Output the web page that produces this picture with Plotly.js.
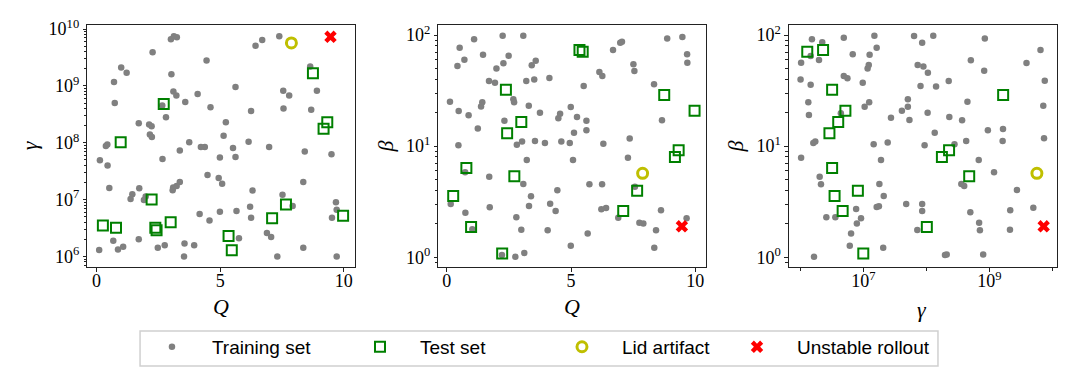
<!DOCTYPE html>
<html>
<head>
<meta charset="utf-8">
<script src="https://cdn.plot.ly/plotly-3.0.1.min.js"></script>
<style>
  html, body { margin: 0; padding: 0; background: #fff; }
  #plot { width: 1079px; height: 389px; }
</style>
</head>
<body>
<div id="plot"></div>
<script>
// Training set, panel 1 (Q vs gamma)
const trainQ1 = [3.01, 3.13, 3.25, 2.27, 1.00, 1.22, 0.71, 3.03, 0.74, 3.11, 3.23, 2.66, 2.81, 1.71, 2.13, 2.23,
    2.16, 2.24, 0.44, 0.38, 0.14, 2.67, 3.37, 6.43, 6.70, 7.39, 4.45, 8.64, 4.09, 3.59, 5.62, 7.55, 7.79, 8.91,
    4.61, 6.25, 7.56, 8.68, 5.23, 5.14, 3.75, 4.22, 4.38, 5.52, 6.15, 6.98, 8.42, 9.50, 4.99, 5.62, 0.45, 0.52,
    1.73, 1.38, 1.45, 1.92, 1.99, 3.08, 0.68, 1.71, 0.11, 0.87, 1.08, 2.48, 2.76, 4.49, 4.94, 5.08, 3.37, 3.24,
    3.10, 6.31, 8.36, 7.52, 7.93, 6.21, 9.68, 9.71, 4.17, 4.99, 5.66, 6.25, 4.57, 9.52, 6.89, 7.06, 5.76, 3.56,
    3.95, 3.54, 7.31, 8.36, 9.71];
const trainGamma1 = [6.6e9, 7.5e9, 7.2e9, 3.9e9, 2.1e9, 1.7e9, 1.17e9, 1.6e9, 5.0e8, 8.0e8, 6.8e8, 4.5e8, 2.8e8,
    2.2e8, 2.1e8, 1.95e8, 1.39e8, 1.26e8, 9.3e7, 8.8e7, 4.9e7, 5.2e7, 7.3e7, 5.1e9, 6.4e9, 7.5e9, 2.8e9, 2.2e9,
    7.2e8, 5.2e8, 9.6e8, 8.2e8, 6.8e8, 8.2e8, 4.2e8, 3.6e8, 4.0e8, 3.8e8, 2.3e8, 1.33e8, 1.02e8, 8.4e7, 8.4e7,
    8.1e7, 1.04e8, 8.4e7, 7.0e7, 6.3e7, 5.5e7, 5.6e7, 4.0e7, 1.6e7, 1.58e7, 1.02e7, 1.24e7, 9.8e6, 1.13e7,
    1.46e7, 1.9e6, 2.0e6, 1.3e6, 1.32e6, 1.48e6, 1.43e6, 1.58e6, 2.7e7, 2.4e7, 1.9e7, 2.05e7, 1.74e7, 1.63e7,
    1.44e7, 2.05e7, 1.22e7, 7.7e6, 7.5e6, 9.0e6, 6.6e6, 5.6e6, 6.1e6, 6.3e6, 4.8e6, 4.3e6, 4.8e6, 2.6e6, 2.2e6,
    2.1e6, 1.69e6, 1.58e6, 1.0e6, 1.0e6, 1.43e6, 1.0e6];

// Training set, panel 2 (Q vs beta)
const trainQ2 = [2.25, 3.08, 1.10, 0.52, 1.46, 2.49, 0.71, 0.43, 2.28, 2.00, 3.58, 3.42, 1.70, 1.94, 3.20, 3.52,
    4.13, 0.13, 2.68, 2.71, 1.43, 1.38, 0.48, 0.88, 3.30, 3.75, 2.32, 1.25, 0.47, 2.82, 3.03, 3.55, 3.95, 3.22,
    8.87, 9.48, 6.69, 6.98, 7.05, 9.67, 9.68, 7.51, 7.55, 6.14, 6.26, 5.51, 8.34, 8.66, 4.99, 4.56, 4.49, 5.24,
    5.62, 5.12, 5.62, 4.61, 4.95, 6.30, 7.36, 5.08, 7.29, 0.74, 1.71, 3.08, 3.39, 3.31, 0.16, 0.75, 1.73, 2.80,
    1.03, 3.00, 4.06, 2.22, 2.76, 3.12, 4.16, 5.74, 6.25, 7.57, 4.45, 4.38, 6.22, 6.41, 6.90, 7.75, 7.91, 8.62,
    9.65, 5.67, 8.42, 4.99, 8.35];
const trainBeta2 = [98.6, 98.6, 91.5, 76.9, 66.5, 65.2, 60.0, 52.6, 55.6, 50.1, 58.7, 53.4, 38.5, 37.2, 38.5, 39.9,
    41.0, 25.1, 26.4, 24.9, 24.9, 22.8, 20.7, 19.0, 23.1, 20.0, 16.9, 14.4, 10.2, 10.3, 11.0, 11.1, 10.7, 7.50,
    93.3, 96.0, 73.3, 85.3, 87.0, 67.0, 56.4, 54.5, 47.4, 46.5, 42.8, 34.7, 36.0, 17.1, 22.5, 19.6, 17.8, 18.3,
    16.9, 13.2, 13.9, 11.0, 10.7, 10.5, 11.7, 7.50, 7.87, 5.82, 5.31, 4.56, 3.54, 2.90, 3.02, 2.52, 2.82, 2.29,
    1.79, 1.77, 1.75, 1.05, 1.01, 1.09, 3.03, 4.54, 4.54, 4.32, 4.01, 2.61, 2.70, 2.78, 2.27, 2.04, 2.01, 2.65,
    2.24, 1.64, 1.75, 1.27, 1.22];

// Training set, panel 3 (gamma vs beta)
const trainGamma3 = [1.53e6, 2.23e6, 4.9e6, 1.50e7, 1.63e7, 1.03e6, 1.46e6, 1.98e6, 6.8e6, 1.26e7, 1.22e7, 1.17e7,
    1.01e6, 1.46e6, 4.9e6, 5.6e6, 9.8e6, 1.34e6, 1.37e6, 1.05e7, 1.24e7, 4.4e6, 2.75e7, 4.1e7, 5.1e7, 5.1e7,
    5.4e7, 1.61e6, 1.73e6, 1.46e7, 2.44e7, 1.03e6, 1.91e7, 6.4e7, 8.6e7, 1.29e8, 8.5e8, 6.5e9, 5.1e8, 3.9e9,
    7.3e7, 9.0e7, 1.06e8, 8.3e8, 2.27e8, 8.1e7, 1.43e8, 7.6e9, 4.5e8, 1.05e8, 7.2e9, 2.32e8, 3.7e8, 1.36e8,
    9.5e8, 1.65e9, 1.63e9, 4.3e8, 7.4e9, 9.4e7, 2.8e8, 6.8e8, 2.03e6, 2.13e6, 1.80e7, 2.11e7, 4.8e7, 1.63e7,
    1.77e7, 7.7e6, 2.59e6, 3.6e6, 9.2e6, 7.9e6, 6.4e6, 6.1e6, 2.07e7, 1.65e6, 1.19e9, 3.6e8, 4.0e8, 2.75e9,
    8.6e7, 8.6e7, 5.0e8, 2.15e9, 5.0e9, 6.9e8, 7.1e8, 7.2e7, 2.13e9, 1.98e8, 2.11e8, 8.0e8];
const trainBeta3 = [91.5, 86.0, 94.6, 98.6, 76.9, 56.4, 64.7, 59.6, 67.0, 66.5, 53.7, 50.1, 39.9, 35.7, 42.8, 40.8,
    37.2, 24.9, 19.1, 22.6, 24.9, 19.8, 18.0, 20.8, 22.6, 26.4, 17.2, 10.7, 11.0, 10.4, 10.8, 7.87, 7.50, 98.0,
    85.3, 98.6, 93.3, 73.3, 59.2, 56.0, 53.7, 52.2, 45.8, 47.7, 38.5, 34.7, 34.5, 38.8, 25.1, 20.0, 23.1, 18.3,
    17.1, 13.2, 13.9, 14.3, 11.1, 11.1, 11.8, 10.2, 10.4, 7.50, 5.31, 4.54, 4.56, 3.56, 3.02, 2.84, 2.88, 2.72,
    2.29, 2.29, 2.24, 2.01, 1.64, 1.27, 1.22, 1.01, 5.82, 4.56, 4.38, 4.03, 3.02, 2.61, 2.54, 2.65, 2.79, 2.05,
    1.75, 1.76, 1.77, 1.05, 1.06, 1.06];

// Test set (same samples in every panel)
const testQ = [0.26, 0.79, 0.98, 2.23, 2.38, 2.43, 2.72, 3.00, 5.34, 5.47, 7.10, 7.66, 8.75, 9.18, 9.33, 9.97];
const testGamma = [3.5e6, 3.2e6, 1.02e8, 1.0e7, 3.2e6, 2.9e6, 4.8e8, 4.0e6, 2.3e6, 1.29e6, 4.7e6, 8.2e6, 1.66e9,
    1.77e8, 2.3e8, 5.2e6];
const testBeta = [3.56, 6.36, 1.87, 1.08, 32.2, 13.1, 5.36, 16.5, 73.3, 70.7, 2.61, 3.97, 28.8, 7.98, 9.18, 20.8];

// Lid artifact and unstable rollout
const lidQ = [7.88];
const lidGamma = [5.7e9];
const lidBeta = [5.7];
const unstableQ = [9.46];
const unstableGamma = [7.3e9];
const unstableBeta = [1.9];

const legendNames = ['Training set', 'Test set', 'Lid artifact', 'Unstable rollout'];

// tick labels
const gammaTicks = [1e6, 1e7, 1e8, 1e9, 1e10];
const gammaTickText = ['10<sup>6</sup>', '10<sup>7</sup>', '10<sup>8</sup>', '10<sup>9</sup>', '10<sup>10</sup>'];
const gammaTicks3 = [1e7, 1e9];
const gammaTickText3 = ['10<sup>7</sup>', '10<sup>9</sup>'];
const betaTicks = [1, 10, 100];
const betaTickText = ['10<sup>0</sup>', '10<sup>1</sup>', '10<sup>2</sup>'];
const qTicks = [0, 5, 10];

const serif = '"Liberation Serif", "DejaVu Serif", serif';

// one legend per entry so each can sit where the reference puts it
const legendIds = ['legend', 'legend2', 'legend3', 'legend4'];

function makeTraces(xs, ys, axis, showLegend) {
    const [xa, ya] = axis;
    const styles = [
        {color: 'gray', size: 6.5},
        {symbol: 'square-open', color: 'green', size: 10, line: {width: 2}},
        {symbol: 'circle-open', color: '#bfbf00', size: 10, line: {width: 3}},
        {symbol: 'x', color: 'red', size: 11, line: {width: 0}}
    ];
    return styles.map((m, i) => ({
        x: xs[i], y: ys[i], xaxis: xa, yaxis: ya, type: 'scatter', mode: 'markers',
        name: legendNames[i], legend: legendIds[i], legendgroup: 'g' + i, showlegend: showLegend,
        marker: m
    }));
}

const traces = [].concat(
    makeTraces([trainQ1, testQ, lidQ, unstableQ], [trainGamma1, testGamma, lidGamma, unstableGamma], ['x', 'y'], true),
    makeTraces([trainQ2, testQ, lidQ, unstableQ], [trainBeta2, testBeta, lidBeta, unstableBeta], ['x2', 'y2'], false),
    makeTraces([trainGamma3, testGamma, lidGamma, unstableGamma], [trainBeta3, testBeta, lidBeta, unstableBeta], ['x3', 'y3'], false)
);

const baseAxis = {
    showline: true, mirror: true, linecolor: '#222', linewidth: 1,
    ticks: 'outside', ticklen: 3.5, tickwidth: 1, tickcolor: '#222',
    showgrid: false, zeroline: false,
    tickfont: {family: serif, size: 18, color: '#000'}
};
const titleFont = {family: serif, size: 22, color: '#000'};

const linAxis = (domain, range, anchor) => Object.assign({}, baseAxis, {
    domain: domain, range: range, anchor: anchor, tickvals: qTicks, ticklabelstandoff: -6
});
const logAxis = (domain, range, anchor, title, vals, text, minor, standoff) => Object.assign({}, baseAxis, {
    domain: domain, range: range, anchor: anchor, type: 'log',
    tickvals: vals, ticktext: text,
    minor: minor,
    title: {text: title, font: titleFont, standoff: standoff}
});
const minorDigits = {ticks: 'outside', ticklen: 2.5, tickcolor: '#222', dtick: 'D1', showgrid: false};
const minorDecades = {ticks: 'outside', ticklen: 2.5, tickcolor: '#222', tickvals: [1e6, 1e8, 1e10], showgrid: false};

const yDomain = [0.3129, 0.9365];

// x-axis titles placed as annotations so they sit close to the tick labels
const xTitle = (text, x, y) => ({
    text: text, xref: 'paper', yref: 'paper', x: x, y: y, xanchor: 'center', yanchor: 'middle',
    showarrow: false, font: titleFont
});

const legendBase = (x) => ({
    orientation: 'h', x: x, xanchor: 'left', y: 0.157, yanchor: 'top',
    itemwidth: 70, borderwidth: 0, bgcolor: 'rgba(0,0,0,0)',
    font: {family: '"Liberation Sans", Arial, sans-serif', size: 19, color: '#000'}
});

const xaxis3 = logAxis([0.7312, 0.9799], [5.82, 10.08], 'y3', '', gammaTicks3, gammaTickText3, minorDecades, 0);
xaxis3.ticklabelstandoff = -6;

const layout = {
    width: 1079, height: 389,
    margin: {l: 0, r: 0, t: 0, b: 0},
    paper_bgcolor: '#fff', plot_bgcolor: '#fff',
    showlegend: true,
    xaxis: linAxis([0.0809, 0.329], [-0.37, 10.45], 'y'),
    yaxis: logAxis(yDomain, [5.81, 10.076], 'x', '<i>γ</i>', gammaTicks, gammaTickText, minorDigits, 4),
    xaxis2: linAxis([0.4062, 0.6543], [-0.34, 10.43], 'y2'),
    yaxis2: logAxis(yDomain, [-0.09, 2.093], 'x2', '<i>β</i>', betaTicks, betaTickText, minorDigits, 6),
    xaxis3: xaxis3,
    yaxis3: logAxis(yDomain, [-0.09, 2.093], 'x3', '<i>β</i>', betaTicks, betaTickText, minorDigits, 6),
    annotations: [
        xTitle('<i>Q</i>', 0.2049, 0.213),
        xTitle('<i>Q</i>', 0.5302, 0.213),
        xTitle('<i>γ</i>', 0.8545, 0.205)
    ],
    // frame round the four legend entries
    shapes: [{
        type: 'rect', xref: 'paper', yref: 'paper', layer: 'below',
        x0: 0.1298, x1: 0.8693, y0: 0.0591, y1: 0.1491,
        line: {color: '#d0d0d0', width: 1.5}, fillcolor: '#fff'
    }],
    legend: legendBase(0.1223),
    legend2: legendBase(0.3151),
    legend3: legendBase(0.5023),
    legend4: legendBase(0.6645)
};

Plotly.newPlot('plot', traces, layout, {displayModeBar: false, staticPlot: true});
</script>
</body>
</html>
